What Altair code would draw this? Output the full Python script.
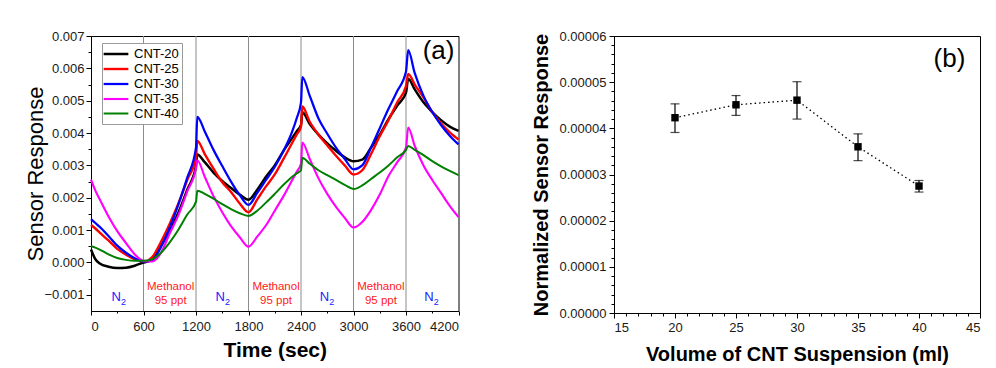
import altair as alt
import pandas as pd

# ---------------- panel (a): sensor response vs time ----------------
TIME = [0, 50, 100, 200, 300, 400, 500, 600, 700, 800, 900, 1000, 1100, 1200, 1215,
        1300, 1400, 1500, 1600, 1700, 1800, 1900, 2000, 2100, 2200, 2300, 2350, 2400, 2415,
        2500, 2600, 2700, 2800, 2900, 3000, 3100, 3200, 3300, 3400, 3500, 3600, 3625,
        3700, 3800, 3900, 4000, 4100, 4200]

# values in units of 1e-3
CNT20 = [0.40, 0.10, -0.03, -0.13, -0.17, -0.16, -0.10, 0.00, 0.08, 0.52, 0.97, 1.55, 2.25, 2.98, 3.34,
         3.10, 2.78, 2.52, 2.30, 2.10, 1.94, 2.25, 2.65, 3.00, 3.45, 3.85, 4.05, 4.25, 4.64,
         4.28, 3.95, 3.68, 3.45, 3.25, 3.13, 3.18, 3.55, 3.95, 4.43, 4.85, 5.25, 5.68,
         5.35, 4.95, 4.65, 4.40, 4.20, 4.07]
CNT25 = [1.16, 1.05, 0.92, 0.68, 0.42, 0.24, 0.10, 0.03, 0.17, 0.64, 1.20, 1.83, 2.55, 3.25, 3.76,
         3.35, 2.90, 2.48, 2.18, 1.82, 1.55, 1.95, 2.35, 2.72, 3.20, 3.70, 3.95, 4.20, 4.82,
         4.35, 3.95, 3.62, 3.30, 3.00, 2.72, 2.85, 3.35, 3.90, 4.40, 4.95, 5.45, 5.83,
         5.50, 5.10, 4.65, 4.30, 4.02, 3.80]
CNT30 = [1.34, 1.22, 1.10, 0.82, 0.52, 0.30, 0.13, 0.03, 0.08, 0.48, 1.08, 1.80, 2.62, 3.55, 4.50,
         4.05, 3.48, 2.98, 2.50, 2.08, 1.78, 2.15, 2.55, 2.95, 3.45, 4.05, 4.45, 4.95, 5.73,
         5.15, 4.45, 3.98, 3.55, 3.20, 2.88, 3.00, 3.55, 4.15, 4.75, 5.30, 5.90, 6.56,
         5.85, 5.15, 4.65, 4.25, 3.92, 3.65]
CNT35 = [2.56, 2.22, 1.95, 1.42, 0.97, 0.60, 0.25, 0.05, 0.03, 0.30, 0.90, 1.47, 2.20, 2.92, 3.16,
         2.65, 2.05, 1.55, 1.12, 0.78, 0.49, 0.80, 1.15, 1.60, 2.05, 2.55, 2.80, 3.05, 3.71,
         3.20, 2.60, 2.12, 1.72, 1.38, 1.08, 1.25, 1.62, 2.10, 2.67, 3.10, 3.55, 4.17,
         3.60, 3.00, 2.55, 2.15, 1.75, 1.40]
CNT40 = [0.51, 0.46, 0.40, 0.25, 0.14, 0.08, 0.05, 0.05, 0.10, 0.30, 0.62, 1.02, 1.48, 1.88, 2.22,
         2.12, 1.97, 1.80, 1.65, 1.52, 1.44, 1.60, 1.85, 2.12, 2.40, 2.65, 2.75, 2.85, 3.24,
         3.05, 2.85, 2.70, 2.55, 2.40, 2.27, 2.38, 2.58, 2.78, 3.00, 3.25, 3.48, 3.60,
         3.48, 3.32, 3.13, 2.97, 2.83, 2.70]

SERIES = ["CNT-20", "CNT-25", "CNT-30", "CNT-35", "CNT-40"]
COLORS = ["#000000", "#ff0000", "#0000ff", "#ff00ff", "#008000"]
WIDTHS = [2.5, 2.0, 1.3, 2.0, 2.0]

BOUNDARIES = [600, 1200, 1800, 2400, 3000, 3600]
N2_TIMES = [330, 1520, 2710, 3905]
N2_LEVEL = -1.07e-3
MEOH_TIMES = [910, 2115, 3313]
MEOH_LEVEL1 = -0.76e-3
MEOH_LEVEL2 = -1.20e-3
PANEL_A = {"t": [3972], "v": [6.55e-3], "label": ["(a)"]}

# ---------------- panel (b): normalized response vs volume ----------------
VOLUME = [20, 25, 30, 35, 40]
RESPONSE = [4.23e-5, 4.51e-5, 4.61e-5, 3.60e-5, 2.75e-5]
ERR_LOW = [3.91e-5, 4.28e-5, 4.20e-5, 3.30e-5, 2.62e-5]
ERR_HIGH = [4.53e-5, 4.71e-5, 5.01e-5, 3.88e-5, 2.87e-5]
PANEL_B = {"x": [42.5], "y": [5.5e-5], "label": ["(b)"]}

FONT = "Liberation Sans"

rows = []
for name, vals in zip(SERIES, [CNT20, CNT25, CNT30, CNT35, CNT40]):
    for t, v in zip(TIME, vals):
        rows.append({"t": t, "v": v / 1000.0, "series": name})
df = pd.DataFrame(rows)

xs_a = alt.Scale(domain=[0, 4200], nice=False, zero=False)
ys_a = alt.Scale(domain=[-0.0015, 0.007], nice=False, zero=False)

x_axis_a = alt.Axis(
    values=list(range(0, 4201, 300)),
    labelExpr="datum.value % 600 == 0 ? format(datum.value, 'd') : ''",
    tickSize={"condition": {"test": "datum.value % 600 == 0", "value": 4}, "value": 2},
    title="Time (sec)", titleFontSize=21, titleFontWeight="bold",
    labelPadding=5, titlePadding=6, labelFontSize=13, labelOverlap=False,
)
y_axis_a = alt.Axis(
    values=[round(-0.001 + i * 0.0005, 4) for i in range(17)],
    labelExpr="round(datum.value*10000) % 10 == 0 ? format(datum.value, '.3f') : ''",
    tickSize={"condition": {"test": "round(datum.value*10000) % 10 == 0", "value": 5}, "value": 3},
    title="Sensor Response", titleFontSize=22, titleFontWeight="normal",
    labelPadding=2, titlePadding=-3.5, labelFontSize=13, labelOverlap=False,
)

rules = alt.Chart(pd.DataFrame({"t": BOUNDARIES})).mark_rule(
    color="#8c8c8c", strokeWidth=1
).encode(x=alt.X("t:Q", scale=xs_a, axis=x_axis_a))

lines = alt.Chart(df).mark_line(interpolate="monotone").encode(
    x=alt.X("t:Q", scale=xs_a, axis=x_axis_a),
    y=alt.Y("v:Q", scale=ys_a, axis=y_axis_a),
    color=alt.Color(
        "series:N",
        scale=alt.Scale(domain=SERIES, range=COLORS),
        legend=alt.Legend(
            title=None, orient="none", legendX=11, legendY=7,
            fillColor="white", strokeColor="#9a9a9a", padding=3,
            symbolType="M-1.9,0H1.9", symbolSize=169, symbolStrokeWidth=2,
            symbolOffset=3, labelOffset=10, labelFontSize=13, labelFont=FONT,
            rowPadding=-1.5, labelColor="black",
        ),
    ),
    strokeWidth=alt.StrokeWidth("series:N", scale=alt.Scale(domain=SERIES, range=WIDTHS), legend=None),
)

n_df = pd.DataFrame({"t": N2_TIMES, "v": [N2_LEVEL] * len(N2_TIMES)})
n_text = alt.Chart(n_df).mark_text(
    text="N", color="#2020ff", fontSize=13, font=FONT, align="right", dx=1, baseline="middle"
).encode(x=alt.X("t:Q", scale=xs_a, axis=x_axis_a), y=alt.Y("v:Q", scale=ys_a, axis=y_axis_a))
n_sub = alt.Chart(n_df).mark_text(
    text="2", color="#2020ff", fontSize=9, font=FONT, align="left", dx=1, dy=5, baseline="middle"
).encode(x=alt.X("t:Q", scale=xs_a, axis=x_axis_a), y=alt.Y("v:Q", scale=ys_a, axis=y_axis_a))

m1 = alt.Chart(pd.DataFrame({"t": MEOH_TIMES, "v": [MEOH_LEVEL1] * len(MEOH_TIMES)})).mark_text(
    text="Methanol", color="#ff2020", fontSize=11.5, font=FONT, baseline="middle"
).encode(x=alt.X("t:Q", scale=xs_a, axis=x_axis_a), y=alt.Y("v:Q", scale=ys_a, axis=y_axis_a))
m2 = alt.Chart(pd.DataFrame({"t": MEOH_TIMES, "v": [MEOH_LEVEL2] * len(MEOH_TIMES)})).mark_text(
    text="95 ppt", color="#ff2020", fontSize=11.5, font=FONT, baseline="middle"
).encode(x=alt.X("t:Q", scale=xs_a, axis=x_axis_a), y=alt.Y("v:Q", scale=ys_a, axis=y_axis_a))

label_a = alt.Chart(pd.DataFrame(PANEL_A)).mark_text(
    fontSize=26, font=FONT, color="black", baseline="middle"
).encode(x=alt.X("t:Q", scale=xs_a, axis=x_axis_a), y=alt.Y("v:Q", scale=ys_a, axis=y_axis_a), text="label:N")

left = alt.layer(rules, lines, n_text, n_sub, m1, m2, label_a).properties(width=367.5, height=275)

# ---------------- panel (b) ----------------
dfb = pd.DataFrame({"vol": VOLUME, "resp": RESPONSE, "lo": ERR_LOW, "hi": ERR_HIGH})
xs_b = alt.Scale(domain=[15, 45], nice=False, zero=False)
ys_b = alt.Scale(domain=[0, 0.00006], nice=False, zero=False)

x_axis_b = alt.Axis(
    values=list(range(15, 46)),
    labelExpr="datum.value % 5 == 0 ? format(datum.value, 'd') : ''",
    tickSize={"condition": {"test": "datum.value % 5 == 0", "value": 5}, "value": 3},
    title="Volume of CNT Suspension (ml)", titleFontSize=20, titleFontWeight="bold",
    labelPadding=3, titlePadding=10, labelFontSize=13, labelOverlap=False,
)
y_axis_b = alt.Axis(
    values=[round(i * 2e-6, 7) for i in range(31)],
    labelExpr="round(datum.value*1e6) % 10 == 0 ? format(datum.value, '.5f') : ''",
    tickSize={"condition": {"test": "round(datum.value*1e6) % 10 == 0", "value": 5}, "value": 3},
    title="Normalized Sensor Response", titleFontSize=20, titleFontWeight="bold",
    labelPadding=3, titlePadding=8, labelFontSize=13, labelOverlap=False,
)

dotted = alt.Chart(dfb).mark_line(color="black", strokeWidth=1.3, strokeDash=[1.5, 3]).encode(
    x=alt.X("vol:Q", scale=xs_b, axis=x_axis_b),
    y=alt.Y("resp:Q", scale=ys_b, axis=y_axis_b),
)
errbars = alt.Chart(dfb).mark_errorbar(
    ticks={"size": 9, "color": "black", "thickness": 1.2}, color="black", thickness=1.2
).encode(
    x=alt.X("vol:Q", scale=xs_b, axis=x_axis_b),
    y=alt.Y("lo:Q", scale=ys_b, axis=y_axis_b),
    y2="hi:Q",
)
points = alt.Chart(dfb).mark_point(shape="square", filled=True, size=55, color="black", opacity=1).encode(
    x=alt.X("vol:Q", scale=xs_b, axis=x_axis_b),
    y=alt.Y("resp:Q", scale=ys_b, axis=y_axis_b),
)
label_b = alt.Chart(pd.DataFrame(PANEL_B)).mark_text(
    fontSize=26, font=FONT, color="black", baseline="middle"
).encode(x=alt.X("x:Q", scale=xs_b, axis=x_axis_b), y=alt.Y("y:Q", scale=ys_b, axis=y_axis_b), text="label:N")

right = alt.layer(dotted, errbars, points, label_b).properties(width=366, height=277)

chart = alt.hconcat(left, right, spacing=66).properties(
    padding={"left": 15, "top": 21, "right": 0, "bottom": 0}
).configure_view(
    stroke="black", strokeWidth=1
).configure_axis(
    grid=False, domainColor="black", tickColor="black", labelColor="#1a1a1a",
    titleColor="black", labelFont=FONT, titleFont=FONT, domainWidth=1, tickWidth=1,
    labelOverlap=False,
).configure_text(font=FONT)

chart.save("out.html", embed_options={"renderer": "svg", "actions": False})
